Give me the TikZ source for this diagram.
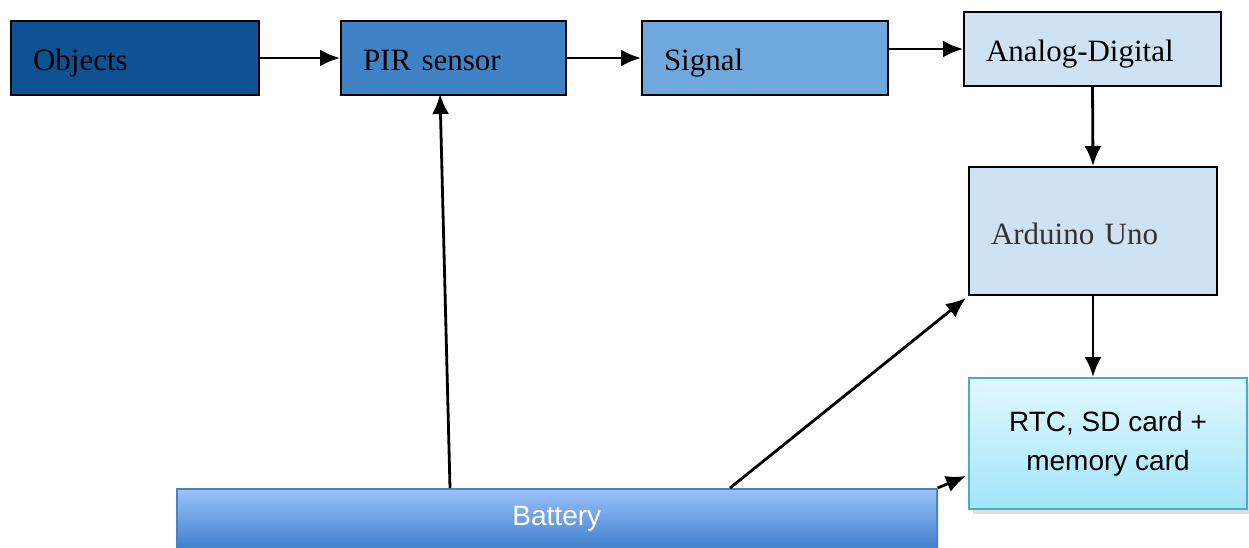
\documentclass[tikz,border=0pt]{standalone}
\usepackage{fontspec}
\setmainfont{Liberation Serif}
\setsansfont{Liberation Sans}
\usetikzlibrary{arrows.meta,shadows,calc}
\definecolor{objblue}{RGB}{15,82,148}
\definecolor{pirblue}{RGB}{63,131,198}
\definecolor{sigblue}{RGB}{111,168,220}
\definecolor{paleblue}{RGB}{207,226,243}
\definecolor{rtctop}{RGB}{226,248,255}
\definecolor{rtcbot}{RGB}{160,230,250}
\definecolor{rtcline}{RGB}{75,172,198}
\definecolor{battop}{RGB}{155,194,250}
\definecolor{batbot}{RGB}{63,128,204}
\definecolor{batline}{RGB}{79,129,189}
\begin{document}
\begin{tikzpicture}[x=1pt, y=-1pt,
    blockbox/.style={draw=black, line width=2pt, rectangle, anchor=north west, align=left,
      inner xsep=22pt, inner ysep=0pt, text height=26pt, text depth=0pt,
      font=\fontsize{31}{36}\selectfont},
    arr/.style={-{Latex[length=20pt,width=17pt]}, line width=2.8pt}]
    \useasboundingbox (0,0) rectangle (1249,548);
    % Blocks
    \node[blockbox, fill=objblue, text width=204pt, minimum height=74pt] (obj) at (10,20) {Objects};
    \node[blockbox, fill=pirblue, text width=181pt, minimum height=74pt] (pir) at (340,20) {PIR sensor};
    \node[blockbox, fill=sigblue, text width=202pt, minimum height=74pt] (sig) at (641,20) {Signal};
    \node[blockbox, fill=paleblue, text width=213pt, minimum height=74pt] (adc) at (963,11) {Analog-Digital};
    \node[blockbox, fill=paleblue, text width=204pt, minimum height=128pt, text=black!80] (ard) at (968,166) {Arduino Uno};
    \node[draw=rtcline, line width=2pt, anchor=north west, minimum width=278pt, minimum height=131pt,
      top color=rtctop, bottom color=rtcbot, align=center, font=\sffamily\fontsize{28}{39}\selectfont,
      drop shadow={shadow xshift=4pt, shadow yshift=-5pt, fill=black!25}] (rtc) at (968,377) {RTC, SD card +\\memory card};
    \node[draw=batline, line width=1.6pt, anchor=north west, minimum width=760pt, minimum height=60pt,
      top color=battop, bottom color=batbot, text=white, font=\sffamily\fontsize{28}{32}\selectfont,
      drop shadow={shadow xshift=2pt, shadow yshift=-2pt, fill=black!15}] (bat) at (176,488) {Battery};
    % Power taps
    \coordinate (tapA) at (450,488);
    \coordinate (tapB) at (730,488);
    \coordinate (pirIn) at (440,94);
    \coordinate (rtcIn) at (966,476);
    % Signal path
    \draw[arr] (obj.east) -- (pir.west);
    \draw[arr] (pir.east) -- (sig.west);
    \draw[arr] (sig.east |- adc.west) -- (adc.west);
    \draw[arr] (adc.south) -- (ard.north);
    \draw[arr] (ard.south) -- (ard.south |- rtc.north);
    % Power lines
    \draw[arr] (tapA) -- (pirIn);
    \draw[arr] (tapB) -- ($(ard.south west)+(-2,2)$);
    \draw[arr] (bat.north east) -- (rtcIn);
\end{tikzpicture}
\end{document}
